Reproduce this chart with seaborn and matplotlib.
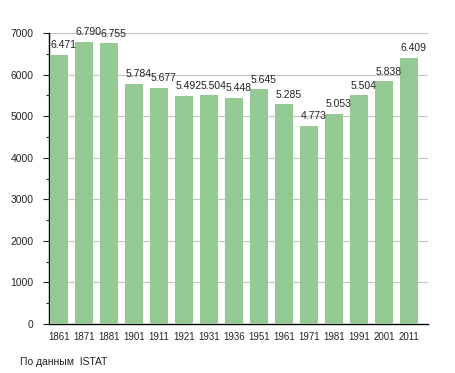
import matplotlib
matplotlib.use("Agg")
import matplotlib.pyplot as plt
import seaborn as sns
import pandas as pd
from matplotlib.ticker import MultipleLocator

years = ["1861", "1871", "1881", "1901", "1911", "1921", "1931", "1936",
         "1951", "1961", "1971", "1981", "1991", "2001", "2011"]
population = [6471, 6790, 6755, 5784, 5677, 5492, 5504, 5448,
              5645, 5285, 4773, 5053, 5504, 5838, 6409]
labels = ["6.471", "6.790", "6.755", "5.784", "5.677", "5.492", "5.504", "5.448",
          "5.645", "5.285", "4.773", "5.053", "5.504", "5.838", "6.409"]
source_text = "По данным  ISTAT"

df = pd.DataFrame({"year": years, "pop": population})

sns.set_style("white")
plt.rcParams["font.family"] = ["Liberation Sans", "DejaVu Sans"]

fig = plt.figure(figsize=(4.55, 3.73), dpi=100)
ax = fig.add_axes([49/455, 1-324/373, (428-49)/455, (324-33)/373])

sns.barplot(data=df, x="year", y="pop", color="#94c994", saturation=1,
            width=0.72, ax=ax, zorder=3, linewidth=0, edgecolor="none")

ax.set_ylim(0, 7000)
ax.set_xlim(-0.4, len(years) - 1 + 0.76)
ax.yaxis.set_major_locator(MultipleLocator(1000))
ax.yaxis.set_minor_locator(MultipleLocator(500))
ax.grid(axis="y", which="major", color="#c4c4c4", linewidth=0.8, zorder=0)
ax.set_axisbelow(True)

for s in ["top", "right"]:
    ax.spines[s].set_visible(False)
ax.spines["left"].set_color("black")
ax.spines["bottom"].set_color("black")
ax.spines["left"].set_linewidth(1)
ax.spines["bottom"].set_linewidth(1)

ax.tick_params(axis="y", which="major", left=True, length=4, width=0.8, labelsize=7.5, pad=7)
ax.tick_params(axis="y", which="minor", left=True, length=2, width=0.8)
ax.tick_params(axis="x", bottom=False, labelsize=7, pad=2.5)
ax.set_xlabel("")
ax.set_ylabel("")

for i, (v, t) in enumerate(zip(population, labels)):
    ax.text(i + 0.18, v + 110, t, ha="center", va="bottom", fontsize=7.5,
            color="#222222", zorder=5)

fig.text(20/455, 1-362/373, source_text, fontsize=7.5, ha="left", va="center", color="#222222")

fig.savefig("out.png", dpi=100)
